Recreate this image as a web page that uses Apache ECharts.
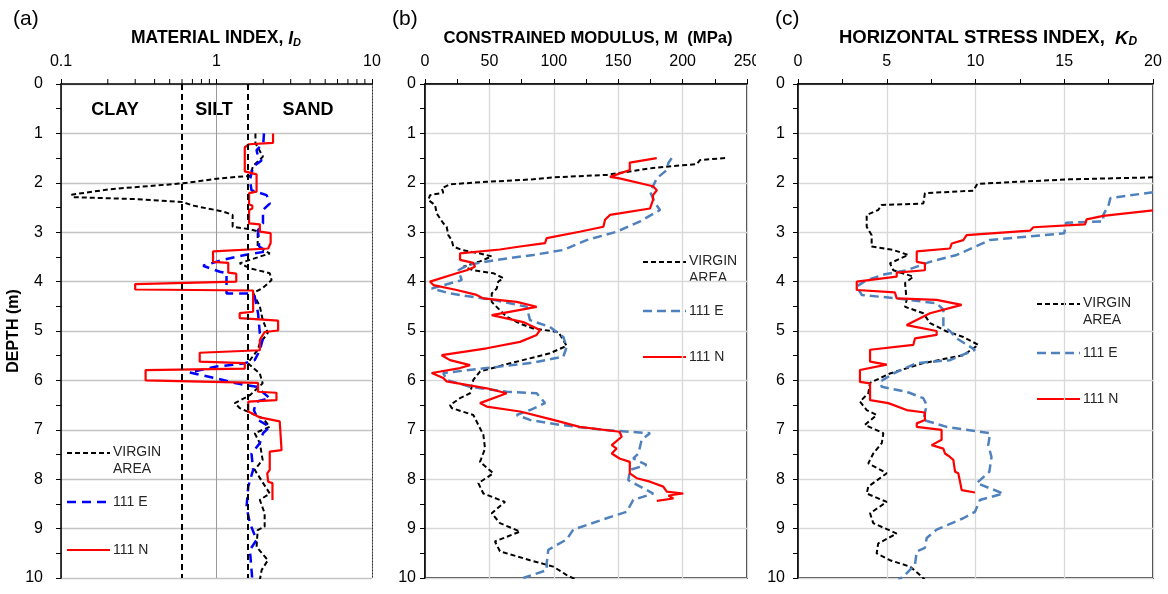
<!DOCTYPE html>
<html><head><meta charset="utf-8">
<script src="https://cdn.jsdelivr.net/npm/echarts@6/dist/echarts.min.js"></script>
<style>html,body{margin:0;padding:0;background:#fff}#c{width:1168px;height:594px}</style>
</head><body><div id="c"></div>
<script>
// ---------- DATA: [value, depth (m)] ----------
// (a) Material index ID
const idVirgin = [[1.78,1.0],[1.78,1.2],[1.99,1.47],[1.72,1.66],[1.64,1.86],[1.05,1.91],[0.61,2.01],[0.206,2.13],[0.117,2.24],[0.12,2.29],[0.3,2.33],[0.61,2.39],[0.70,2.46],[1.10,2.58],[1.27,2.65],[1.27,2.89],[1.64,2.94],[1.84,2.98],[1.84,3.29],[2.20,3.43],[1.64,3.56],[1.41,3.63],[1.64,3.73],[2.20,3.83],[2.26,3.97],[1.98,4.13],[1.72,4.23],[1.90,4.5],[1.98,4.77],[2.14,5.04],[2.14,5.08],[1.90,5.25],[1.84,5.38],[1.59,5.65],[1.90,5.86],[1.98,6.06],[1.64,6.3],[1.31,6.46],[1.41,6.56],[1.99,6.77],[2.20,6.94],[1.76,7.07],[1.90,7.27],[1.98,7.61],[1.76,7.81],[2.20,8.29],[1.90,8.42],[2.04,8.69],[2.04,8.96],[1.84,9.03],[1.81,9.37],[2.14,9.64],[1.95,9.84],[1.90,10.04]];
const idE = [[2.02,1.0],[2.0,1.2],[1.81,1.34],[1.85,1.47],[1.95,1.55],[1.72,1.67],[1.64,1.94],[1.68,2.15],[2.10,2.25],[2.20,2.42],[1.99,2.55],[1.99,2.82],[1.85,2.96],[1.88,3.29],[2.10,3.39],[1.52,3.46],[1.10,3.56],[0.82,3.68],[1.05,3.8],[1.16,3.83],[1.16,4.24],[1.64,4.24],[1.76,4.3],[1.85,4.64],[1.90,5.05],[1.99,5.15],[1.90,5.39],[1.76,5.59],[1.48,5.66],[1.0,5.72],[0.67,5.84],[1.0,5.96],[1.34,6.06],[1.81,6.13],[2.20,6.36],[1.81,6.43],[1.74,6.6],[1.85,6.8],[2.20,6.94],[1.99,7.07],[1.90,7.27],[1.68,7.48],[1.72,7.81],[1.60,8.15],[1.56,8.56],[1.64,8.89],[1.81,9.23],[1.64,9.43],[1.68,9.84],[1.70,10.04]];
const idN = [[2.31,1.0],[2.31,1.19],[1.62,1.22],[1.52,1.28],[1.52,1.77],[1.81,1.83],[1.81,2.18],[1.62,2.21],[1.62,2.44],[1.70,2.46],[1.70,2.52],[1.62,2.55],[1.62,2.82],[1.90,2.84],[1.90,2.99],[2.23,3.02],[2.23,3.22],[2.15,3.33],[0.95,3.39],[0.95,3.6],[1.19,3.62],[1.19,3.82],[1.34,3.84],[1.34,4.0],[0.30,4.05],[0.30,4.16],[1.72,4.18],[1.72,4.61],[1.41,4.64],[1.41,4.74],[2.49,4.79],[2.49,4.99],[2.04,5.02],[1.90,5.18],[1.90,5.39],[0.78,5.44],[0.78,5.62],[1.52,5.65],[1.52,5.76],[0.35,5.79],[0.35,6.0],[1.85,6.05],[1.85,6.23],[2.43,6.25],[2.43,6.4],[1.60,6.43],[1.60,6.63],[1.90,6.75],[2.55,6.83],[2.62,7.41],[2.20,7.44],[2.20,7.81],[2.12,7.88],[2.15,8.05],[2.29,8.08],[2.29,8.42]];
// (b) Constrained modulus M (MPa)
const mVirgin = [[233,1.5],[213.5,1.54],[211,1.62],[177,1.7],[141,1.84],[99.6,1.89],[84,1.93],[47.9,1.98],[19.4,2.03],[13,2.11],[14.2,2.2],[3.9,2.25],[2.6,2.35],[7.8,2.45],[9.1,2.62],[14.2,2.82],[16.8,2.89],[18.1,3.06],[20.7,3.16],[22,3.29],[28.5,3.36],[42.7,3.43],[51.8,3.49],[42.7,3.59],[29.7,3.7],[37.5,3.77],[53,3.83],[60.8,3.93],[56.9,4.0],[55.7,4.14],[51.8,4.24],[51.8,4.41],[58.2,4.58],[63.4,4.71],[73.8,4.85],[84.1,4.95],[103.5,5.02],[110,5.3],[97,5.45],[60.8,5.69],[42.7,5.82],[37.5,5.99],[35,6.26],[27.2,6.36],[19.4,6.5],[20.7,6.56],[37.5,6.7],[45.3,7.1],[46.6,7.38],[42.7,7.65],[53,7.88],[41.4,8.08],[45.3,8.29],[62.1,8.46],[51.8,8.69],[58.2,8.89],[73.8,9.06],[54.3,9.26],[58.2,9.46],[81.5,9.64],[99.6,9.77],[110,9.94],[120,10.07]];
const mE = [[191.5,1.5],[189,1.6],[187.7,1.74],[180,1.91],[177,2.07],[174.7,2.18],[178.6,2.41],[182.5,2.55],[167,2.78],[148.8,2.99],[125.5,3.16],[107.4,3.36],[84.1,3.46],[55.7,3.56],[33.6,3.66],[25.9,3.77],[28.5,3.97],[5.2,4.14],[19.4,4.24],[53,4.37],[79,4.51],[81.5,4.78],[97,4.92],[107.4,5.12],[110,5.32],[107.4,5.52],[81.5,5.65],[47.9,5.75],[14.2,5.85],[16.8,5.99],[35,6.13],[63.4,6.23],[86.7,6.26],[93.2,6.46],[81.5,6.6],[71.2,6.7],[81.5,6.8],[104.8,6.9],[138.5,7.0],[174.7,7.07],[168.2,7.2],[165.7,7.48],[161.7,7.58],[172,7.71],[159.2,7.81],[157.8,8.02],[177.2,8.29],[161.7,8.42],[156.6,8.66],[141,8.79],[115.1,9.02],[110,9.22],[95.7,9.43],[94.5,9.7],[94.5,9.84],[76.3,10.0]];
const mN = [[179.9,1.5],[159,1.59],[159,1.74],[143.6,1.88],[151,1.91],[177,2.07],[180,2.15],[177,2.25],[177,2.35],[174.7,2.52],[151,2.62],[143.6,2.65],[139.8,2.75],[138.5,2.89],[120,2.99],[94.5,3.12],[93.2,3.22],[73.8,3.29],[58.2,3.35],[27.2,3.43],[27.2,3.56],[37.5,3.62],[38.8,3.7],[32.4,3.77],[24.6,3.83],[3.9,4.0],[6.5,4.07],[24.6,4.17],[40.1,4.27],[45.3,4.34],[71.2,4.41],[86.7,4.51],[51.8,4.68],[76.3,4.82],[89.3,4.98],[86.7,5.08],[73.8,5.22],[47.9,5.35],[13,5.49],[19.4,5.59],[35,5.69],[27.2,5.75],[5.2,5.85],[14.2,5.95],[16.8,6.02],[47.9,6.16],[63.4,6.26],[42.7,6.46],[47.9,6.53],[73.8,6.63],[99.6,6.8],[120,6.94],[151,7.04],[152.7,7.14],[145,7.31],[148.8,7.38],[145,7.48],[151,7.58],[159,7.65],[159,7.88],[164.4,7.98],[174.7,8.05],[185,8.15],[187.7,8.25],[200.5,8.29],[189,8.33],[192.8,8.39],[180,8.44]];
// (c) Horizontal stress index KD
const kVirgin = [[20,1.89],[15.3,1.93],[10.1,2.02],[9.88,2.16],[7.15,2.21],[7.06,2.42],[4.7,2.45],[4.52,2.55],[3.87,2.65],[3.87,2.89],[4.15,3.06],[4.15,3.29],[5.37,3.36],[6.21,3.46],[5.18,3.63],[5.37,3.77],[6.5,3.9],[6.03,4.03],[6.12,4.37],[6.03,4.51],[7.06,4.64],[7.44,4.84],[8.38,5.01],[9.31,5.12],[10.16,5.28],[9.31,5.49],[7.06,5.65],[5.18,5.86],[4.06,6.05],[3.96,6.26],[3.49,6.43],[3.87,6.6],[4.43,6.7],[3.77,6.9],[4.81,7.07],[4.72,7.27],[4.24,7.48],[3.96,7.68],[5.0,7.88],[3.96,8.15],[3.87,8.29],[5.0,8.46],[4.06,8.69],[4.24,8.89],[5.56,9.1],[4.52,9.3],[4.43,9.5],[5.18,9.64],[6.31,9.77],[6.87,9.94],[7.25,10.07]];
const kE = [[20,2.19],[17.6,2.31],[17.5,2.45],[17.2,2.65],[17.2,2.78],[15.1,2.81],[15.0,3.02],[10.8,3.16],[8.94,3.46],[7.44,3.6],[6.12,3.77],[4.9,3.85],[3.87,3.97],[3.31,4.1],[3.59,4.27],[5.56,4.34],[7.81,4.44],[8.19,4.57],[8.19,4.91],[8.56,5.0],[8.94,5.15],[9.97,5.38],[8.56,5.59],[6.69,5.65],[5.37,5.86],[4.62,6.03],[4.72,6.13],[6.12,6.23],[7.06,6.36],[7.25,6.5],[7.06,6.8],[8.38,6.94],[10.82,7.07],[10.72,7.31],[10.9,7.55],[10.78,7.85],[10.07,8.08],[11.57,8.29],[10.25,8.42],[9.97,8.66],[9.31,8.79],[7.81,9.02],[7.25,9.19],[7.15,9.39],[6.69,9.46],[6.59,9.73],[6.03,9.94],[5.65,10.04]];
const kN = [[20,2.56],[17.95,2.64],[17.2,2.67],[16.26,2.74],[16.17,2.84],[13.26,2.9],[13.07,2.97],[9.5,3.06],[9.31,3.16],[8.66,3.23],[8.56,3.33],[6.69,3.39],[6.69,3.6],[7.15,3.63],[7.15,3.77],[5.56,3.82],[5.56,3.9],[3.31,4.0],[3.31,4.17],[5.46,4.22],[5.56,4.34],[7.81,4.37],[9.22,4.47],[7.44,4.64],[6.12,4.88],[7.81,5.0],[7.81,5.08],[6.59,5.15],[6.5,5.28],[4.06,5.38],[4.06,5.62],[5.0,5.68],[3.49,5.79],[3.49,6.03],[4.06,6.06],[4.06,6.4],[5.09,6.46],[6.12,6.6],[7.15,6.65],[7.15,6.8],[6.69,6.87],[6.69,6.94],[8.09,7.0],[8.09,7.2],[7.53,7.31],[8.19,7.38],[8.28,7.48],[8.56,7.55],[8.75,7.61],[8.85,7.85],[9.03,7.88],[9.13,8.05],[9.22,8.22],[9.97,8.27]];
// soil class boundaries on ID axis, and log minor tick positions
const soilBounds = [0.6, 1.6];
const soilNames = ['CLAY', 'SILT', 'SAND'];
const logMinorTicks = [0.2,0.3,0.4,0.5,0.6,0.7,0.8,0.9,2,3,4,5,6,7,8,9];
const seriesNames = ['VIRGIN\nAREA', '111 E', '111 N'];

// ---------- CHART ----------
const FONT = '"Liberation Sans", Arial, sans-serif';
const chart = echarts.init(document.getElementById('c'), null, {renderer: 'canvas'});
const G = [{left: 61, width: 311}, {left: 425, width: 322}, {left: 798, width: 355}];
const grids = G.map((g, i) => ({left: g.left, width: g.width, top: 84, height: 494,
  show: i > 0, borderColor: '#000', borderWidth: 1.5, backgroundColor: 'transparent'}));

const axisLbl = {fontSize: 16, color: '#000', fontFamily: FONT};
function yAx(gi, splitColor, margin) {
  return {type: 'value', gridIndex: gi, inverse: true, min: 0, max: 10, interval: 1,
    axisLine: {show: true, lineStyle: {color: '#000', width: 1.5}},
    axisTick: {show: true, inside: false, length: 5, lineStyle: {color: '#000'}},
    minorTick: {show: true, splitNumber: 2, length: 5, lineStyle: {color: '#000'}},
    axisLabel: Object.assign({margin: margin}, axisLbl),
    splitLine: {show: true, lineStyle: {color: splitColor, width: 1.3}}};
}
const xAxes = [
  {type: 'log', logBase: 10, gridIndex: 0, position: 'top', min: 0.1, max: 10,
    axisLine: {show: true, lineStyle: {color: '#000', width: 1.5}},
    axisTick: {show: true, inside: false, length: 5, lineStyle: {color: '#000'}},
    axisLabel: Object.assign({margin: 14, formatter: v => String(v)}, axisLbl),
    splitLine: {show: true, lineStyle: {color: '#9a9a9a', width: 1}}},
  {type: 'value', gridIndex: 1, position: 'top', min: 0, max: 250, interval: 50,
    axisLine: {show: true, lineStyle: {color: '#000', width: 1.5}},
    axisTick: {show: true, inside: false, length: 5, lineStyle: {color: '#000'}},
    minorTick: {show: true, splitNumber: 2, length: 5, lineStyle: {color: '#000'}},
    axisLabel: Object.assign({margin: 14}, axisLbl),
    splitLine: {show: true, lineStyle: {color: '#d9d9d9', width: 1.3}}},
  {type: 'value', gridIndex: 2, position: 'top', min: 0, max: 20, interval: 5,
    axisLine: {show: true, lineStyle: {color: '#000', width: 1.5}},
    axisTick: {show: true, inside: false, length: 5, lineStyle: {color: '#000'}},
    minorTick: {show: true, splitNumber: 2, length: 5, lineStyle: {color: '#000'}},
    axisLabel: Object.assign({margin: 14}, axisLbl),
    splitLine: {show: true, lineStyle: {color: '#d9d9d9', width: 1.3}}},
  // dotted bottom border of panel (a)
  {type: 'log', logBase: 10, gridIndex: 0, position: 'bottom', min: 0.1, max: 10,
    axisLine: {show: true, lineStyle: {color: '#333', width: 1, type: [1, 2]}},
    axisTick: {show: false}, axisLabel: {show: false}, splitLine: {show: false}}
];
const yAxes = [
  Object.assign(yAx(0, '#c4c4c4', 18), {name: 'DEPTH (m)', nameLocation: 'middle', nameGap: 29, nameRotate: 90,
    nameTextStyle: {fontSize: 16, fontWeight: 'bold', color: '#000', fontFamily: FONT}}),
  yAx(1, '#d9d9d9', 9),
  yAx(2, '#d9d9d9', 13),
  // dotted right border of panel (a)
  {type: 'value', gridIndex: 0, position: 'right', inverse: true, min: 0, max: 10,
    axisLine: {show: true, lineStyle: {color: '#333', width: 1, type: [1, 2]}},
    axisTick: {show: false}, axisLabel: {show: false}, splitLine: {show: false}}
];

const virginStyle = {color: '#000', width: 2, type: [5, 3]};
function ln(name, data, gi, ls) {
  return {type: 'line', name: name, data: data, xAxisIndex: gi, yAxisIndex: gi,
    showSymbol: false, symbol: 'none', clip: true, animation: false, silent: true,
    lineStyle: Object.assign({}, ls), itemStyle: {color: ls.color}, z: 3};
}
const blueA = {color: '#0000ff', width: 2.5, type: [9, 6]};
const blueBC = {color: '#4f81bd', width: 2.5, type: [9, 5]};
const red = {color: '#ff0000', width: 2.2, type: 'solid'};

const series = [
  ln('virginA', idVirgin, 0, virginStyle),
  ln('eA', idE, 0, blueA),
  ln('nA', idN, 0, red),
  ln('virginB', mVirgin, 1, virginStyle),
  ln('eB', mE, 1, blueBC),
  ln('nB', mN, 1, red),
  ln('virginC', kVirgin, 2, virginStyle),
  ln('eC', kE, 2, blueBC),
  ln('nC', kN, 2, red),
  // soil class boundaries
  {type: 'line', data: [], xAxisIndex: 0, yAxisIndex: 0, silent: true,
    markLine: {silent: true, symbol: ['none', 'none'], label: {show: false}, animation: false,
      lineStyle: {color: '#000', width: 2, type: [6, 4]},
      data: soilBounds.map(v => ({xAxis: v}))}},
  // minor log ticks on top of panel (a)
  {type: 'custom', xAxisIndex: 0, yAxisIndex: 0, silent: true, clip: false, animation: false,
    data: logMinorTicks.map(v => [v, 0]),
    renderItem: (params, api) => {
      const p = api.coord([api.value(0), 0]);
      return {type: 'line', shape: {x1: p[0], y1: p[1], x2: p[0], y2: p[1] - 5},
        style: {stroke: '#000', lineWidth: 1}};
    }}
];

// legends / titles as graphics
function legend(x, yV, yE, yN, eStyle) {
  const mk = (y, st) => ({type: 'line', shape: {x1: x, y1: y, x2: x + 43, y2: y},
    style: {stroke: st.color, lineWidth: st.width, lineDash: Array.isArray(st.type) ? st.type : null}});
  const tx = (y, t) => ({type: 'text', x: x + 46, y: y,
    style: {text: t, font: '14px ' + FONT, fill: '#262626', verticalAlign: 'middle', lineHeight: 17}});
  return [mk(yV, virginStyle), tx(yV + 8, seriesNames[0]),
          mk(yE, eStyle), tx(yE, seriesNames[1]),
          mk(yN, red), tx(yN, seriesNames[2])];
}
function title(cx, main, letter, size) {
  return {type: 'text', x: cx, y: 38,
    style: {text: main + '{i|' + letter + '}{s|D}',
      font: 'bold ' + size + 'px ' + FONT, fill: '#000', align: 'center', verticalAlign: 'middle',
      rich: {i: {font: 'italic bold ' + size + 'px ' + FONT, fill: '#000', verticalAlign: 'bottom', lineHeight: 20},
             s: {font: 'italic bold ' + Math.round(size * 0.65) + 'px ' + FONT, fill: '#000', verticalAlign: 'bottom', lineHeight: 13}}}};
}
const panelLbl = (x, t) => ({type: 'text', x: x, y: 9,
  style: {text: t, font: '21px ' + FONT, fill: '#000'}});
const soilLbl = (x, t) => ({type: 'text', x: x, y: 110,
  style: {text: t, font: 'bold 18px ' + FONT, fill: '#000', align: 'center', verticalAlign: 'middle'}});

const graphics = [
  panelLbl(13, '(a)'), panelLbl(392, '(b)'), panelLbl(775, '(c)'),
  title(216, 'MATERIAL INDEX, ', 'I', 17.5),
  {type: 'text', x: 588, y: 38, style: {text: 'CONSTRAINED MODULUS, M  (MPa)', font: 'bold 16.7px ' + FONT, fill: '#000', align: 'center', verticalAlign: 'middle'}},
  title(988, 'HORIZONTAL STRESS INDEX,  ', 'K', 18.5),
  soilLbl(115, soilNames[0]), soilLbl(214, soilNames[1]), soilLbl(308, soilNames[2]),
  // the reference clips the last tick label of panel (b)
  {type: 'rect', shape: {x: 756, y: 50, width: 16, height: 26}, style: {fill: '#fff'}, z: 100}
].concat(legend(67, 453, 502, 550, blueA))
 .concat(legend(643, 262, 311, 357, blueBC))
 .concat(legend(1037, 304, 353, 399, blueBC));

chart.setOption({
  animation: false,
  backgroundColor: '#fff',
  textStyle: {fontFamily: FONT},
  grid: grids,
  xAxis: xAxes,
  yAxis: yAxes,
  series: series,
  graphic: {elements: graphics}
});
</script></body></html>
